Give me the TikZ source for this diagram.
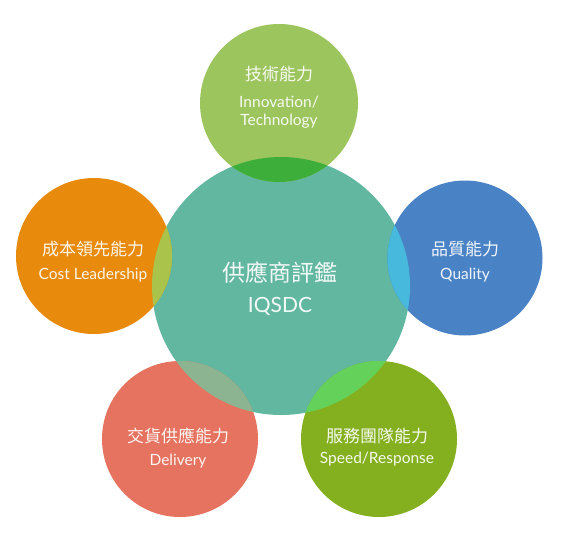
\documentclass[tikz,border=0pt]{standalone}
\usepackage{fontspec}
\setmainfont{Lato}
\newfontfamily\cjk{Noto Sans CJK TC}
\definecolor{cteal}{HTML}{62B7A0}
\definecolor{ctop}{HTML}{9DC55E}
\definecolor{corange}{HTML}{E88A0C}
\definecolor{cblue}{HTML}{4A83C5}
\definecolor{cred}{HTML}{E5735F}
\definecolor{cgreen}{HTML}{84B01F}
\definecolor{ltop}{HTML}{3DAE3A}
\definecolor{lorange}{HTML}{AAC34B}
\definecolor{lblue}{HTML}{46B9DC}
\definecolor{lred}{HTML}{8CB491}
\definecolor{lgreen}{HTML}{64D25A}
\tikzset{
  bub/.style={circle, inner sep=0pt, minimum size=156pt, draw=none},
  cn/.style={text=white, text opacity=0.92, inner sep=0pt, anchor=base, font=\cjk\fontsize{17}{17}\selectfont},
  en/.style={text=white, text opacity=0.92, inner sep=0pt, anchor=base, font=\fontsize{15.5}{15.5}\selectfont},
}
\begin{document}
\begin{tikzpicture}[x=1pt,y=-1pt]
\useasboundingbox (0,0) rectangle (561,548);
\fill[white] (0,0) rectangle (561,548);
% circles
\node[bub, fill=cteal, minimum size=258pt] (core) at (281,286) {};
\node[bub, fill=ctop, minimum size=158pt] (tech) at (279,103) {};
\node[bub, fill=corange] (cost) at (94,256) {};
\node[bub, fill=cblue, minimum size=155pt] (qual) at (465,258) {};
\node[bub, fill=cred] (deli) at (180,439) {};
\node[bub, fill=cgreen] (serv) at (379,439) {};
% overlap lenses
\begin{scope}
  \clip (281,286) circle (129pt);
  \fill[ltop] (279,103) circle (79pt);
  \fill[lorange] (94,256) circle (78pt);
  \fill[lblue] (465,258) circle (77.5pt);
  \fill[lred] (180,439) circle (78pt);
  \fill[lgreen] (379,439) circle (78pt);
\end{scope}
% texts
\node[cn] (t1) at (279,81) {技術能力};
\node[en] (t2) at (279,107.5) {Innovation/};
\node[en] (t3) at (279,125.5) {Technology};
\node[cn, font=\cjk\fontsize{23}{23}\selectfont] (c1) at (280,281.5) {供應商評鑑};
\node[en, font=\fontsize{21}{21}\selectfont] (c2) at (280,312.5) {IQSDC};
\node[cn] (l1) at (93,255) {成本領先能力};
\node[en] (l2) at (93,279.5) {Cost Leadership};
\node[cn] (r1) at (465,255) {品質能力};
\node[en] (r2) at (465,279.5) {Quality};
\node[cn] (d1) at (178,442) {交貨供應能力};
\node[en] (d2) at (178,465.5) {Delivery};
\node[cn] (s1) at (377,442) {服務團隊能力};
\node[en] (s2) at (377,463.5) {Speed/Response};
\end{tikzpicture}
\end{document}
